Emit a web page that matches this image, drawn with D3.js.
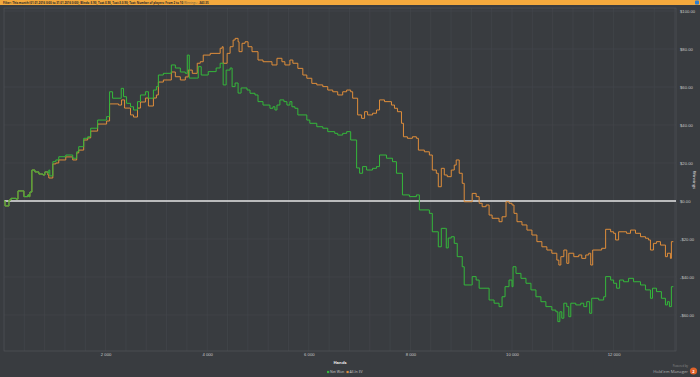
<!DOCTYPE html>
<html>
<head>
<meta charset="utf-8">
<script src="https://cdn.jsdelivr.net/npm/d3@7"></script>
<style>
    html, body { margin: 0; padding: 0; background: #393c40; }
    svg { display: block; font-family: "Open Sans", "DejaVu Sans", sans-serif; }
</style>
</head>
<body>
<div id="chart"></div>
<script>
// ============================================================================
// HM2 GRAPH - Net Won vs All-In EV over hands
// ============================================================================

const netWonHands = [0, 20, 98, 137, 235, 275, 373, 392, 470, 490, 510, 549, 608, 686, 765, 804, 863, 882, 902,
    961, 1020, 1078, 1216, 1353, 1431, 1471, 1569, 1647, 1706, 1843, 2020, 2078, 2137, 2308, 2353, 2412, 2490,
    2549, 2628, 2686, 2784, 2843, 2941, 3000, 3039, 3137, 3294, 3373, 3471, 3569, 3608, 3647, 3784, 3824, 3882,
    4020, 4176, 4255, 4314, 4373, 4451, 4490, 4549, 4608, 4667, 4784, 4843, 4941, 5000, 5098, 5235, 5294, 5333,
    5373, 5431, 5510, 5569, 5628, 5667, 5726, 5784, 5961, 6020, 6157, 6275, 6373, 6510, 6569, 6667, 6745, 6824,
    6941, 7000, 7059, 7137, 7255, 7333, 7392, 7529, 7647, 7725, 7843, 7980, 8118, 8176, 8373, 8431, 8549, 8608,
    8686, 8706, 8745, 8804, 8863, 8922, 9020, 9059, 9196, 9216, 9294, 9353, 9549, 9647, 9745, 9804, 9863, 9941,
    10000, 10020, 10078, 10176, 10275, 10373, 10471, 10569, 10667, 10784, 10863, 10902, 10941, 10980, 11020,
    11078, 11118, 11157, 11255, 11353, 11412, 11471, 11529, 11569, 11706, 11804, 11843, 11941, 12000, 12059,
    12118, 12196, 12294, 12392, 12529, 12627, 12725, 12765, 12843, 12941, 13020, 13059, 13098, 13137, 13176];
const netWonValues = [0, -2.6, 0.5, 1.4, 1.0, 5.3, 5.3, 2.3, 3.2, 2.3, 4.7, 16.3, 15.3, 14.2, 13.7, 15.3, 14.7, 16.3, 13.2,
    20.7, 21.6, 23.3, 24.2, 22.5, 25.9, 28.6, 33.0, 33.8, 38.3, 42.6, 44.4, 57.5, 54.1, 59.3, 54.9, 51.4, 49.6,
    47.9, 52.3, 55.8, 57.5, 54.1, 58.4, 60.2, 66.3, 67.2, 71.6, 70.0, 67.9, 67.2, 76.8, 64.7, 64.7, 70.7, 66.3,
    68.1, 70.0, 72.5, 61.1, 68.9, 70.0, 60.2, 62.1, 56.8, 59.5, 58.4, 56.7, 55.8, 52.3, 50.5, 48.8, 49.6, 47.9,
    50.5, 53.2, 52.3, 50.5, 52.3, 49.6, 48.8, 45.3, 42.6, 40.9, 39.1, 38.3, 36.5, 35.6, 34.7, 35.6, 36.5, 32.1,
    17.4, 14.6, 18.1, 16.3, 17.2, 18.1, 24.2, 22.5, 20.7, 14.6, 3.2, 2.3, 3.2, -4.7, -6.5, -16.2, -24.1, -14.4,
    -14.4, -24.7, -19.5, -18.8, -22.3, -29.3, -34.6, -44.2, -44.2, -39.8, -41.6, -45.9, -52.1, -53.8, -55.6, -50.4, -45.1, -41.6,
    -45.1, -34.6, -38.1, -40.7, -43.3, -46.8, -50.4, -53.0, -55.6, -57.4, -58.3, -63.5, -58.3, -61.7, -53.8,
    -55.6, -60.9, -53.8, -54.7, -53.8, -55.6, -53.0, -59.1, -51.2, -52.1, -50.4, -39.8, -41.6, -43.3, -45.9,
    -41.6, -42.5, -40.7, -42.5, -44.2, -46.8, -51.2, -45.9, -47.7, -51.2, -54.7, -53.0, -55.6, -45.1, -45.1];

const allInHands = [0, 20, 98, 137, 235, 275, 373, 392, 470, 490, 510, 549, 608, 686, 765, 804, 863, 882,
    961, 1020, 1078, 1216, 1353, 1431, 1471, 1569, 1647, 1706, 1843, 2020, 2078, 2255, 2314, 2373, 2490,
    2549, 2628, 2686, 2784, 2843, 2941, 3000, 3039, 3137, 3294, 3373, 3471, 3569, 3627, 3706, 3804, 3863,
    3922, 4059, 4255, 4294, 4314, 4392, 4451, 4510, 4549, 4608, 4627, 4686, 4745, 4804, 4882, 5000, 5098,
    5275, 5373, 5471, 5529, 5628, 5686, 5784, 5882, 5961, 6059, 6157, 6275, 6373, 6471, 6569, 6667, 6745,
    6824, 6863, 6961, 7039, 7098, 7157, 7255, 7333, 7392, 7490, 7627, 7686, 7745, 7824, 7863, 7941, 8039,
    8118, 8157, 8275, 8373, 8431, 8510, 8549, 8608, 8667, 8725, 8804, 8863, 8902, 8961, 9020, 9059, 9196,
    9216, 9294, 9353, 9412, 9490, 9549, 9608, 9745, 9804, 9882, 9941, 10000, 10039, 10098, 10196, 10294,
    10392, 10490, 10588, 10686, 10784, 10882, 10922, 10961, 11020, 11078, 11118, 11216, 11314, 11373, 11451,
    11510, 11549, 11588, 11765, 11843, 11941, 12000, 12039, 12098, 12255, 12333, 12431, 12529, 12627, 12686,
    12725, 12784, 12843, 12922, 13020, 13059, 13118, 13137, 13176];
const allInValues = [0, -2.6, 0.5, 1.4, 1.0, 5.3, 5.3, 2.3, 3.2, 2.3, 4.7, 16.3, 15.3, 14.2, 13.7, 15.3, 13.7, 12.1,
    19.5, 20.0, 21.6, 23.2, 21.6, 25.3, 26.8, 32.1, 33.2, 36.8, 40.5, 42.1, 51.1, 50.5, 53.2, 48.9, 45.3,
    44.2, 48.9, 52.1, 54.2, 50.0, 54.2, 55.8, 62.6, 63.7, 67.9, 65.4, 63.7, 65.3, 68.9, 67.2, 72.5, 73.3,
    76.8, 77.7, 80.4, 81.2, 72.5, 77.7, 81.2, 84.7, 85.6, 83.8, 78.6, 83.0, 83.8, 81.2, 78.6, 74.2, 73.3,
    71.6, 75.1, 73.3, 71.6, 74.2, 72.5, 69.8, 66.3, 64.6, 61.9, 61.1, 60.2, 58.4, 57.5, 55.8, 57.5, 58.4,
    57.5, 54.1, 45.3, 43.5, 47.0, 45.3, 46.2, 47.9, 53.2, 52.3, 50.5, 48.8, 47.0, 40.9, 33.8, 33.0, 33.8,
    33.0, 26.8, 25.9, 24.2, 16.3, 14.6, 7.5, 17.2, 13.7, 12.8, 16.3, 18.9, 21.6, 14.6, 9.3, -0.4, -0.4,
    4.0, 2.3, -1.2, -3.0, -2.1, -7.4, -9.1, -10.9, -8.3, -0.4, -1.2, -2.1, -6.5, -10.9, -12.6, -15.3,
    -17.9, -21.4, -24.1, -25.8, -27.5, -31.1, -33.7, -29.3, -25.8, -32.8, -27.5, -29.3, -28.4, -30.2, -28.4,
    -27.5, -33.7, -25.8, -24.9, -14.9, -16.2, -17.0, -20.5, -16.2, -17.0, -15.3, -17.0, -18.8, -19.6, -20.5,
    -25.8, -22.3, -21.4, -23.2, -29.3, -27.5, -30.2, -21.4, -21.4];

const yTicks = [100, 80, 60, 40, 20, 0, -20, -40, -60];
const xTicks = [2000, 4000, 6000, 8000, 10000, 12000];
const seriesNames = ['Net Won', 'All-In EV'];
const filterText = 'Filter: This month (01.01.2016 0:00 to 31.01.2016 0:00); Blinds: $.90, Tost.$.90, Tost.$.0.90; Tost: Number of players: From 2 to 10';
const winningsText = '-$43.35';

const COLORS = {
    bg: '#393c40',
    grid: '#45484d',
    border: '#55585d',
    header: '#f4a93d',
    text: '#c8c8c8',
    green: '#34b83a',
    orange: '#de8d3a',
    zero: '#e6e6e6'
};

const width = 700, height = 377;
const plot = { left: 4, right: 676, top: 8, bottom: 351 };

const svg = d3.select('#chart').append('svg')
    .attr('width', width).attr('height', height);

svg.append('rect').attr('width', width).attr('height', height).attr('fill', COLORS.bg);

// Header bar
svg.append('rect').attr('x', 0).attr('y', 0).attr('width', width).attr('height', 5)
    .attr('fill', COLORS.header);
const hdr = svg.append('text').attr('x', 3).attr('y', 3.7)
    .style('font-size', '2.9px').style('font-weight', 'bold').attr('fill', '#2a2a2a');
hdr.append('tspan').text(filterText + '  ');
hdr.append('tspan').attr('fill', '#6a5a40').style('font-weight', 'normal').text('Winnings : ');
hdr.append('tspan').text(winningsText);
svg.append('rect').attr('x', 695).attr('y', 0.5).attr('width', 4).attr('height', 4)
    .attr('rx', 0.8).attr('fill', '#2f7fd0');

const xScale = d3.scaleLinear().domain([0, 13228]).range([plot.left, plot.right]);
const yScale = d3.scaleLinear().domain([-78.95, 101.58]).range([plot.bottom, plot.top]);

// Grid
svg.append('g').selectAll('line')
    .data(d3.range(400, 13228, 400))
    .join('line')
    .attr('x1', d => xScale(d)).attr('x2', d => xScale(d))
    .attr('y1', plot.top).attr('y2', plot.bottom)
    .attr('stroke', COLORS.grid).attr('stroke-width', 0.6);

svg.append('g').selectAll('line')
    .data(yTicks.filter(d => d !== 0))
    .join('line')
    .attr('x1', plot.left).attr('x2', plot.right)
    .attr('y1', d => yScale(d)).attr('y2', d => yScale(d))
    .attr('stroke', COLORS.grid).attr('stroke-width', 0.6);

svg.append('rect')
    .attr('x', plot.left).attr('y', plot.top)
    .attr('width', plot.right - plot.left).attr('height', plot.bottom - plot.top)
    .attr('fill', 'none').attr('stroke', COLORS.border).attr('stroke-width', 0.6);

// Zero line
svg.append('line')
    .attr('x1', plot.left).attr('x2', plot.right)
    .attr('y1', yScale(0)).attr('y2', yScale(0))
    .attr('stroke', COLORS.zero).attr('stroke-width', 1.3);

// Series
const line = d3.line().curve(d3.curveStepAfter)
    .x(d => xScale(d[0])).y(d => yScale(d[1]));

const series = [
    { name: seriesNames[1], color: COLORS.orange, pts: d3.zip(allInHands, allInValues) },
    { name: seriesNames[0], color: COLORS.green, pts: d3.zip(netWonHands, netWonValues) }
];
series.forEach(s => {
    svg.append('path')
        .datum(s.pts)
        .attr('d', line)
        .attr('fill', 'none')
        .attr('stroke', s.color)
        .attr('stroke-width', 1);
});

// Right axis labels
const yAxis = svg.append('g').attr('transform', `translate(${plot.right},0)`)
    .call(d3.axisRight(yScale).tickValues(yTicks).tickSize(0).tickPadding(4)
        .tickFormat(d => (d < 0 ? '-$' : '$') + Math.abs(d).toFixed(2)));
yAxis.select('.domain').remove();
yAxis.selectAll('text').style('font-size', '4.2px').attr('fill', COLORS.text);

svg.append('text')
    .attr('transform', `translate(693,${yScale(11)}) rotate(90)`)
    .attr('text-anchor', 'middle')
    .style('font-size', '4.2px').attr('fill', '#e0e0e0')
    .text('Winnings');

// Bottom axis labels
const xAxis = svg.append('g').attr('transform', `translate(0,${plot.bottom})`)
    .call(d3.axisBottom(xScale).tickValues(xTicks).tickSize(0).tickPadding(2)
        .tickFormat(d => d3.format(',')(d).replace(',', ' ')));
xAxis.select('.domain').remove();
xAxis.selectAll('text').style('font-size', '4.2px').attr('fill', COLORS.text);

svg.append('text')
    .attr('x', 340).attr('y', 363.5)
    .attr('text-anchor', 'middle')
    .style('font-size', '4.2px').style('font-weight', 'bold').attr('fill', '#e8e8e8')
    .text('Hands');

// Legend
const legend = svg.append('g').attr('transform', 'translate(327,373.5)');
[{ name: seriesNames[0], color: COLORS.green, x: 0 }, { name: seriesNames[1], color: COLORS.orange, x: 19.5 }]
    .forEach(l => {
        legend.append('rect').attr('x', l.x).attr('y', -2.6)
            .attr('width', 2.2).attr('height', 2.2).attr('fill', l.color);
        legend.append('text').attr('x', l.x + 3).attr('y', -0.5)
            .style('font-size', '3.5px').attr('fill', COLORS.text).text(l.name);
    });

// Branding
svg.append('text').attr('x', 688).attr('y', 367).attr('text-anchor', 'end')
    .style('font-size', '2.8px').attr('fill', '#8a8a8a').text('Powered by');
svg.append('text').attr('x', 688).attr('y', 372.5).attr('text-anchor', 'end')
    .style('font-size', '4.2px').attr('fill', '#b0b0b0').text("Hold'em Manager");
svg.append('circle').attr('cx', 693.5).attr('cy', 371).attr('r', 3.6).attr('fill', '#e0622a');
svg.append('text').attr('x', 693.5).attr('y', 372.6).attr('text-anchor', 'middle')
    .style('font-size', '4px').style('font-weight', 'bold').attr('fill', '#fff').text('2');
</script>
</body>
</html>
